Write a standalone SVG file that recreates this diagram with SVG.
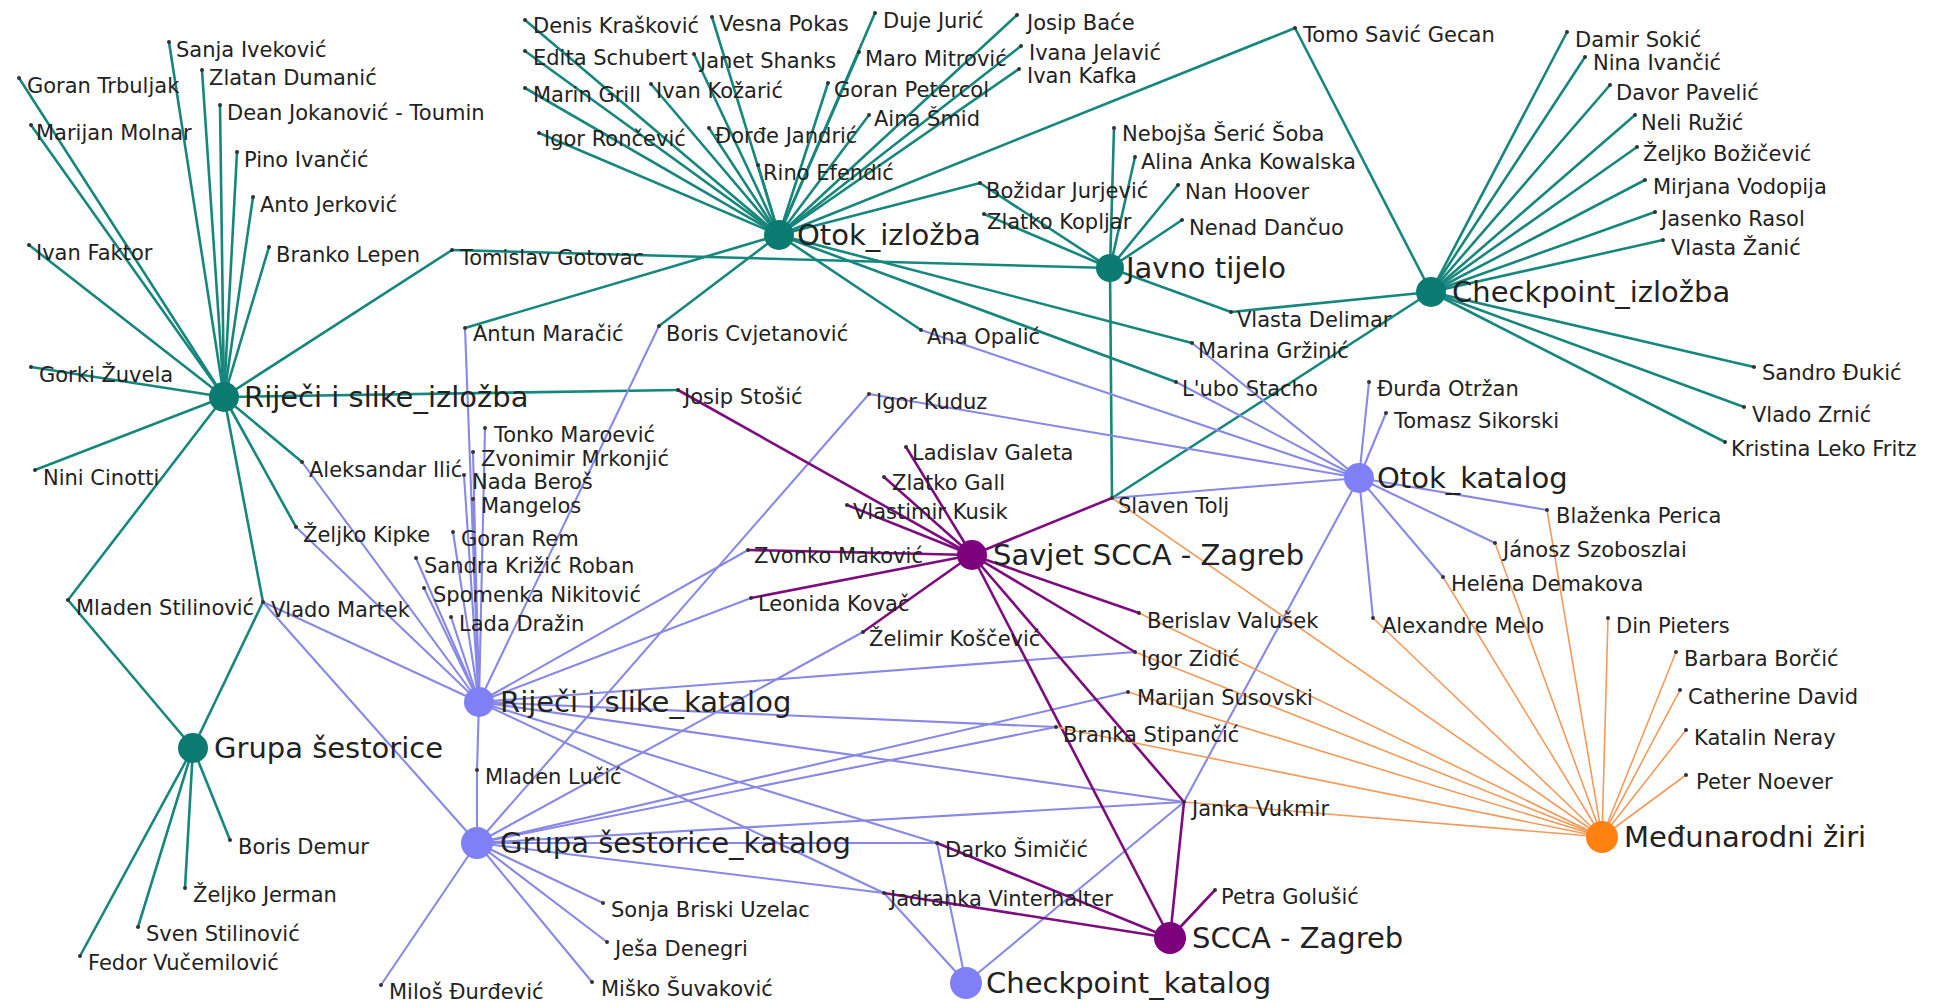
<svg xmlns="http://www.w3.org/2000/svg" width="1934" height="1003" viewBox="0 0 1934 1003">
<style>
.t{stroke:#17877d;stroke-width:2.6;stroke-linecap:round}
.p{stroke:#7d0c7d;stroke-width:2.6;stroke-linecap:round}
.b{stroke:#8888e6;stroke-width:2.1;stroke-linecap:round}
.o{stroke:#f39a5a;stroke-width:1.6;stroke-linecap:round}
text{font-family:"DejaVu Sans",Verdana,sans-serif;fill:#222}
.l{font-size:21px}
.h{font-size:29px}
.d{fill:#333}
.ht{fill:#0b7b72}.hp{fill:#7d007d}.hb{fill:#8080f6}.ho{fill:#ff8210}
</style>
<rect width="1934" height="1003" fill="#fff"/>
<g id="edges">
<!-- RI teal -->
<line class="t" x1="224" y1="397" x2="169" y2="42"/>
<line class="t" x1="224" y1="397" x2="19" y2="78"/>
<line class="t" x1="224" y1="397" x2="202" y2="70"/>
<line class="t" x1="224" y1="397" x2="220" y2="105"/>
<line class="t" x1="224" y1="397" x2="31" y2="125"/>
<line class="t" x1="224" y1="397" x2="237" y2="152"/>
<line class="t" x1="224" y1="397" x2="253" y2="197"/>
<line class="t" x1="224" y1="397" x2="29" y2="245"/>
<line class="t" x1="224" y1="397" x2="269" y2="247"/>
<line class="t" x1="224" y1="397" x2="452" y2="250"/>
<line class="t" x1="224" y1="397" x2="31" y2="367"/>
<line class="t" x1="224" y1="397" x2="35" y2="470"/>
<line class="t" x1="224" y1="397" x2="302" y2="462"/>
<line class="t" x1="224" y1="397" x2="296" y2="527"/>
<line class="t" x1="224" y1="397" x2="263" y2="602"/>
<line class="t" x1="224" y1="397" x2="68" y2="600"/>
<line class="t" x1="224" y1="397" x2="678" y2="390"/>
<!-- GS teal -->
<line class="t" x1="193" y1="748" x2="68" y2="600"/>
<line class="t" x1="193" y1="748" x2="263" y2="602"/>
<line class="t" x1="193" y1="748" x2="230" y2="840"/>
<line class="t" x1="193" y1="748" x2="185" y2="888"/>
<line class="t" x1="193" y1="748" x2="138" y2="927"/>
<line class="t" x1="193" y1="748" x2="80" y2="956"/>
<!-- OI teal -->
<line class="t" x1="779" y1="235" x2="525" y2="20"/>
<line class="t" x1="779" y1="235" x2="712" y2="17"/>
<line class="t" x1="779" y1="235" x2="875" y2="13"/>
<line class="t" x1="779" y1="235" x2="1017" y2="15"/>
<line class="t" x1="779" y1="235" x2="525" y2="51"/>
<line class="t" x1="779" y1="235" x2="694" y2="54"/>
<line class="t" x1="779" y1="235" x2="859" y2="52"/>
<line class="t" x1="779" y1="235" x2="1021" y2="46"/>
<line class="t" x1="779" y1="235" x2="1019" y2="69"/>
<line class="t" x1="779" y1="235" x2="525" y2="88"/>
<line class="t" x1="779" y1="235" x2="651" y2="84"/>
<line class="t" x1="779" y1="235" x2="828" y2="83"/>
<line class="t" x1="779" y1="235" x2="539" y2="133"/>
<line class="t" x1="779" y1="235" x2="709" y2="128"/>
<line class="t" x1="779" y1="235" x2="869" y2="115"/>
<line class="t" x1="779" y1="235" x2="758" y2="165"/>
<line class="t" x1="779" y1="235" x2="980" y2="183"/>
<line class="t" x1="779" y1="235" x2="1295" y2="28"/>
<line class="t" x1="779" y1="235" x2="465" y2="328"/>
<line class="t" x1="779" y1="235" x2="659" y2="326"/>
<line class="t" x1="779" y1="235" x2="921" y2="330"/>
<line class="t" x1="779" y1="235" x2="1176" y2="382"/>
<line class="t" x1="779" y1="235" x2="1192" y2="343"/>
<!-- JT teal -->
<line class="t" x1="1110" y1="268" x2="1114" y2="128"/>
<line class="t" x1="1110" y1="268" x2="1135" y2="157"/>
<line class="t" x1="1110" y1="268" x2="1178" y2="185"/>
<line class="t" x1="1110" y1="268" x2="1182" y2="220"/>
<line class="t" x1="1110" y1="268" x2="980" y2="183"/>
<line class="t" x1="1110" y1="268" x2="984" y2="214"/>
<line class="t" x1="1110" y1="268" x2="452" y2="250"/>
<line class="t" x1="1110" y1="268" x2="1231" y2="312"/>
<line class="t" x1="1110" y1="268" x2="1112" y2="498"/>
<!-- CI teal -->
<line class="t" x1="1431" y1="292" x2="1567" y2="32"/>
<line class="t" x1="1431" y1="292" x2="1585" y2="57"/>
<line class="t" x1="1431" y1="292" x2="1610" y2="85"/>
<line class="t" x1="1431" y1="292" x2="1635" y2="115"/>
<line class="t" x1="1431" y1="292" x2="1637" y2="147"/>
<line class="t" x1="1431" y1="292" x2="1645" y2="180"/>
<line class="t" x1="1431" y1="292" x2="1655" y2="212"/>
<line class="t" x1="1431" y1="292" x2="1663" y2="240"/>
<line class="t" x1="1431" y1="292" x2="1754" y2="367"/>
<line class="t" x1="1431" y1="292" x2="1744" y2="407"/>
<line class="t" x1="1431" y1="292" x2="1725" y2="442"/>
<line class="t" x1="1431" y1="292" x2="1295" y2="28"/>
<line class="t" x1="1431" y1="292" x2="1231" y2="312"/>
<line class="t" x1="1431" y1="292" x2="1112" y2="498"/>
<!-- OK blue -->
<line class="b" x1="1359" y1="478" x2="1369" y2="382"/>
<line class="b" x1="1359" y1="478" x2="1386" y2="413"/>
<line class="b" x1="1359" y1="478" x2="1547" y2="510"/>
<line class="b" x1="1359" y1="478" x2="1495" y2="543"/>
<line class="b" x1="1359" y1="478" x2="1443" y2="577"/>
<line class="b" x1="1359" y1="478" x2="1373" y2="618"/>
<line class="b" x1="1359" y1="478" x2="869" y2="394"/>
<line class="b" x1="1359" y1="478" x2="921" y2="330"/>
<line class="b" x1="1359" y1="478" x2="1176" y2="382"/>
<line class="b" x1="1359" y1="478" x2="1192" y2="343"/>
<line class="b" x1="1359" y1="478" x2="1112" y2="498"/>
<line class="b" x1="1359" y1="478" x2="1184" y2="802"/>
<!-- RK blue -->
<line class="b" x1="479" y1="702" x2="465" y2="328"/>
<line class="b" x1="479" y1="702" x2="485" y2="428"/>
<line class="b" x1="479" y1="702" x2="473" y2="452"/>
<line class="b" x1="479" y1="702" x2="464" y2="475"/>
<line class="b" x1="479" y1="702" x2="473" y2="499"/>
<line class="b" x1="479" y1="702" x2="453" y2="532"/>
<line class="b" x1="479" y1="702" x2="416" y2="558"/>
<line class="b" x1="479" y1="702" x2="424" y2="588"/>
<line class="b" x1="479" y1="702" x2="451" y2="617"/>
<line class="b" x1="479" y1="702" x2="302" y2="462"/>
<line class="b" x1="479" y1="702" x2="296" y2="527"/>
<line class="b" x1="479" y1="702" x2="263" y2="602"/>
<line class="b" x1="479" y1="702" x2="659" y2="326"/>
<line class="b" x1="479" y1="702" x2="748" y2="550"/>
<line class="b" x1="479" y1="702" x2="751" y2="598"/>
<line class="b" x1="479" y1="702" x2="1135" y2="652"/>
<line class="b" x1="479" y1="702" x2="1056" y2="727"/>
<line class="b" x1="479" y1="702" x2="1184" y2="802"/>
<line class="b" x1="479" y1="702" x2="937" y2="843"/>
<line class="b" x1="479" y1="702" x2="884" y2="893"/>
<line class="b" x1="479" y1="702" x2="477" y2="770"/>
<!-- GK blue -->
<line class="b" x1="477" y1="843" x2="477" y2="770"/>
<line class="b" x1="477" y1="843" x2="381" y2="985"/>
<line class="b" x1="477" y1="843" x2="603" y2="903"/>
<line class="b" x1="477" y1="843" x2="607" y2="942"/>
<line class="b" x1="477" y1="843" x2="592" y2="982"/>
<line class="b" x1="477" y1="843" x2="263" y2="602"/>
<line class="b" x1="477" y1="843" x2="869" y2="394"/>
<line class="b" x1="477" y1="843" x2="863" y2="632"/>
<line class="b" x1="477" y1="843" x2="1128" y2="692"/>
<line class="b" x1="477" y1="843" x2="1056" y2="727"/>
<line class="b" x1="477" y1="843" x2="1184" y2="802"/>
<line class="b" x1="477" y1="843" x2="937" y2="843"/>
<line class="b" x1="477" y1="843" x2="884" y2="893"/>
<!-- CK blue -->
<line class="b" x1="966" y1="983" x2="884" y2="893"/>
<line class="b" x1="966" y1="983" x2="937" y2="843"/>
<line class="b" x1="966" y1="983" x2="1184" y2="802"/>
<!-- SS purple -->
<line class="p" x1="972" y1="555" x2="678" y2="390"/>
<line class="p" x1="972" y1="555" x2="847" y2="505"/>
<line class="p" x1="972" y1="555" x2="884" y2="477"/>
<line class="p" x1="972" y1="555" x2="906" y2="447"/>
<line class="p" x1="972" y1="555" x2="748" y2="550"/>
<line class="p" x1="972" y1="555" x2="751" y2="598"/>
<line class="p" x1="972" y1="555" x2="863" y2="632"/>
<line class="p" x1="972" y1="555" x2="1139" y2="613"/>
<line class="p" x1="972" y1="555" x2="1135" y2="652"/>
<line class="p" x1="972" y1="555" x2="1112" y2="498"/>
<line class="p" x1="972" y1="555" x2="1184" y2="802"/>
<line class="p" x1="972" y1="555" x2="1170" y2="938"/>
<!-- SZ purple -->
<line class="p" x1="1170" y1="938" x2="1215" y2="890"/>
<line class="p" x1="1170" y1="938" x2="884" y2="893"/>
<line class="p" x1="1170" y1="938" x2="937" y2="843"/>
<line class="p" x1="1170" y1="938" x2="1184" y2="802"/>
<!-- MZ orange -->
<line class="o" x1="1602" y1="837" x2="1112" y2="498"/>
<line class="o" x1="1602" y1="837" x2="1139" y2="613"/>
<line class="o" x1="1602" y1="837" x2="1135" y2="652"/>
<line class="o" x1="1602" y1="837" x2="1128" y2="692"/>
<line class="o" x1="1602" y1="837" x2="1056" y2="727"/>
<line class="o" x1="1602" y1="837" x2="1184" y2="802"/>
<line class="o" x1="1602" y1="837" x2="1373" y2="618"/>
<line class="o" x1="1602" y1="837" x2="1443" y2="577"/>
<line class="o" x1="1602" y1="837" x2="1495" y2="543"/>
<line class="o" x1="1602" y1="837" x2="1547" y2="510"/>
<line class="o" x1="1602" y1="837" x2="1608" y2="618"/>
<line class="o" x1="1602" y1="837" x2="1676" y2="652"/>
<line class="o" x1="1602" y1="837" x2="1680" y2="690"/>
<line class="o" x1="1602" y1="837" x2="1686" y2="730"/>
<line class="o" x1="1602" y1="837" x2="1686" y2="775"/>
</g>
<g id="hubs">
<g id="otok-izlozba"><circle class="ht" cx="779" cy="235" r="15"/><text class="h" x="797" y="245">Otok_izložba</text></g>
<g id="javno-tijelo"><circle class="ht" cx="1110" cy="268" r="14"/><text class="h" x="1126" y="278">Javno tijelo</text></g>
<g id="checkpoint-izlozba"><circle class="ht" cx="1431" cy="292" r="15"/><text class="h" x="1452" y="302">Checkpoint_izložba</text></g>
<g id="rijeci-izlozba"><circle class="ht" cx="224" cy="397" r="15"/><text class="h" x="244" y="407">Riječi i slike_izložba</text></g>
<g id="grupa-sestorice"><circle class="ht" cx="193" cy="748" r="15"/><text class="h" x="214" y="758">Grupa šestorice</text></g>
<g id="otok-katalog"><circle class="hb" cx="1359" cy="478" r="15"/><text class="h" x="1377" y="488">Otok_katalog</text></g>
<g id="savjet-scca"><circle class="hp" cx="972" cy="555" r="15"/><text class="h" x="993" y="565">Savjet SCCA - Zagreb</text></g>
<g id="rijeci-katalog"><circle class="hb" cx="479" cy="702" r="15"/><text class="h" x="500" y="712">Riječi i slike_katalog</text></g>
<g id="grupa-katalog"><circle class="hb" cx="477" cy="843" r="16"/><text class="h" x="500" y="853">Grupa šestorice_katalog</text></g>
<g id="medunarodni-ziri"><circle class="ho" cx="1602" cy="837" r="16"/><text class="h" x="1624" y="847">Međunarodni žiri</text></g>
<g id="scca-zagreb"><circle class="hp" cx="1170" cy="938" r="16"/><text class="h" x="1192" y="948">SCCA - Zagreb</text></g>
<g id="checkpoint-katalog"><circle class="hb" cx="966" cy="983" r="16"/><text class="h" x="986" y="993">Checkpoint_katalog</text></g>
</g>
<g id="people">
<g id="n1"><circle class="d" cx="169" cy="42" r="2"/><text class="l" x="176" y="57">Sanja Iveković</text></g>
<g id="n2"><circle class="d" cx="19" cy="78" r="2"/><text class="l" x="27" y="93">Goran Trbuljak</text></g>
<g id="n3"><circle class="d" cx="202" cy="70" r="2"/><text class="l" x="209" y="85">Zlatan Dumanić</text></g>
<g id="n4"><circle class="d" cx="220" cy="105" r="2"/><text class="l" x="227" y="120">Dean Jokanović - Toumin</text></g>
<g id="n5"><circle class="d" cx="31" cy="125" r="2"/><text class="l" x="36" y="140">Marijan Molnar</text></g>
<g id="n6"><circle class="d" cx="237" cy="152" r="2"/><text class="l" x="244" y="167">Pino Ivančić</text></g>
<g id="n7"><circle class="d" cx="253" cy="197" r="2"/><text class="l" x="260" y="212">Anto Jerković</text></g>
<g id="n8"><circle class="d" cx="29" cy="245" r="2"/><text class="l" x="36" y="260">Ivan Faktor</text></g>
<g id="n9"><circle class="d" cx="269" cy="247" r="2"/><text class="l" x="276" y="262">Branko Lepen</text></g>
<g id="n10"><circle class="d" cx="452" cy="250" r="2"/><text class="l" x="460" y="265">Tomislav Gotovac</text></g>
<g id="n11"><circle class="d" cx="31" cy="367" r="2"/><text class="l" x="39" y="382">Gorki Žuvela</text></g>
<g id="n12"><circle class="d" cx="35" cy="470" r="2"/><text class="l" x="43" y="485">Nini Cinotti</text></g>
<g id="n13"><circle class="d" cx="302" cy="462" r="2"/><text class="l" x="309" y="477">Aleksandar Ilić</text></g>
<g id="n14"><circle class="d" cx="296" cy="527" r="2"/><text class="l" x="303" y="542">Željko Kipke</text></g>
<g id="n15"><circle class="d" cx="68" cy="600" r="2"/><text class="l" x="76" y="615">Mladen Stilinović</text></g>
<g id="n16"><circle class="d" cx="263" cy="602" r="2"/><text class="l" x="271" y="617">Vlado Martek</text></g>
<g id="n17"><circle class="d" cx="678" cy="390" r="2"/><text class="l" x="684" y="404">Josip Stošić</text></g>
<g id="n18"><circle class="d" cx="525" cy="20" r="2"/><text class="l" x="533" y="33">Denis Krašković</text></g>
<g id="n19"><circle class="d" cx="712" cy="17" r="2"/><text class="l" x="719" y="31">Vesna Pokas</text></g>
<g id="n20"><circle class="d" cx="875" cy="13" r="2"/><text class="l" x="883" y="28">Duje Jurić</text></g>
<g id="n21"><circle class="d" cx="1017" cy="15" r="2"/><text class="l" x="1027" y="30">Josip Baće</text></g>
<g id="n22"><circle class="d" cx="525" cy="51" r="2"/><text class="l" x="533" y="65">Edita Schubert</text></g>
<g id="n23"><circle class="d" cx="694" cy="54" r="2"/><text class="l" x="700" y="68">Janet Shanks</text></g>
<g id="n24"><circle class="d" cx="859" cy="52" r="2"/><text class="l" x="865" y="66">Maro Mitrović</text></g>
<g id="n25"><circle class="d" cx="1021" cy="46" r="2"/><text class="l" x="1029" y="60">Ivana Jelavić</text></g>
<g id="n26"><circle class="d" cx="1019" cy="69" r="2"/><text class="l" x="1027" y="83">Ivan Kafka</text></g>
<g id="n27"><circle class="d" cx="525" cy="88" r="2"/><text class="l" x="533" y="102">Marin Grill</text></g>
<g id="n28"><circle class="d" cx="651" cy="84" r="2"/><text class="l" x="656" y="98">Ivan Kožarić</text></g>
<g id="n29"><circle class="d" cx="828" cy="83" r="2"/><text class="l" x="834" y="97">Goran Petercol</text></g>
<g id="n30"><circle class="d" cx="539" cy="133" r="2"/><text class="l" x="544" y="146">Igor Rončević</text></g>
<g id="n31"><circle class="d" cx="709" cy="128" r="2"/><text class="l" x="715" y="143">Đorđe Jandrić</text></g>
<g id="n32"><circle class="d" cx="869" cy="115" r="2"/><text class="l" x="874" y="126">Aina Šmid</text></g>
<g id="n33"><circle class="d" cx="758" cy="165" r="2"/><text class="l" x="763" y="180">Rino Efendić</text></g>
<g id="n34"><circle class="d" cx="980" cy="183" r="2"/><text class="l" x="986" y="198">Božidar Jurjević</text></g>
<g id="n35"><circle class="d" cx="984" cy="214" r="2"/><text class="l" x="987" y="229">Zlatko Kopljar</text></g>
<g id="n36"><circle class="d" cx="1295" cy="28" r="2"/><text class="l" x="1303" y="42">Tomo Savić Gecan</text></g>
<g id="n37"><circle class="d" cx="1114" cy="128" r="2"/><text class="l" x="1122" y="141">Nebojša Šerić Šoba</text></g>
<g id="n38"><circle class="d" cx="1135" cy="157" r="2"/><text class="l" x="1141" y="169">Alina Anka Kowalska</text></g>
<g id="n39"><circle class="d" cx="1178" cy="185" r="2"/><text class="l" x="1185" y="199">Nan Hoover</text></g>
<g id="n40"><circle class="d" cx="1182" cy="220" r="2"/><text class="l" x="1189" y="235">Nenad Dančuo</text></g>
<g id="n41"><circle class="d" cx="1231" cy="312" r="2"/><text class="l" x="1237" y="327">Vlasta Delimar</text></g>
<g id="n42"><circle class="d" cx="1192" cy="343" r="2"/><text class="l" x="1198" y="358">Marina Gržinić</text></g>
<g id="n43"><circle class="d" cx="1176" cy="382" r="2"/><text class="l" x="1182" y="396">L'ubo Stacho</text></g>
<g id="n44"><circle class="d" cx="1112" cy="498" r="2"/><text class="l" x="1118" y="513">Slaven Tolj</text></g>
<g id="n45"><circle class="d" cx="1567" cy="32" r="2"/><text class="l" x="1575" y="47">Damir Sokić</text></g>
<g id="n46"><circle class="d" cx="1585" cy="57" r="2"/><text class="l" x="1593" y="70">Nina Ivančić</text></g>
<g id="n47"><circle class="d" cx="1610" cy="85" r="2"/><text class="l" x="1616" y="100">Davor Pavelić</text></g>
<g id="n48"><circle class="d" cx="1635" cy="115" r="2"/><text class="l" x="1641" y="130">Neli Ružić</text></g>
<g id="n49"><circle class="d" cx="1637" cy="147" r="2"/><text class="l" x="1643" y="161">Željko Božičević</text></g>
<g id="n50"><circle class="d" cx="1645" cy="180" r="2"/><text class="l" x="1653" y="194">Mirjana Vodopija</text></g>
<g id="n51"><circle class="d" cx="1655" cy="212" r="2"/><text class="l" x="1661" y="226">Jasenko Rasol</text></g>
<g id="n52"><circle class="d" cx="1663" cy="240" r="2"/><text class="l" x="1671" y="255">Vlasta Žanić</text></g>
<g id="n53"><circle class="d" cx="1754" cy="367" r="2"/><text class="l" x="1762" y="380">Sandro Đukić</text></g>
<g id="n54"><circle class="d" cx="1744" cy="407" r="2"/><text class="l" x="1752" y="422">Vlado Zrnić</text></g>
<g id="n55"><circle class="d" cx="1725" cy="442" r="2"/><text class="l" x="1731" y="456">Kristina Leko Fritz</text></g>
<g id="n56"><circle class="d" cx="465" cy="328" r="2"/><text class="l" x="473" y="341">Antun Maračić</text></g>
<g id="n57"><circle class="d" cx="659" cy="326" r="2"/><text class="l" x="666" y="341">Boris Cvjetanović</text></g>
<g id="n58"><circle class="d" cx="921" cy="330" r="2"/><text class="l" x="927" y="344">Ana Opalić</text></g>
<g id="n59"><circle class="d" cx="869" cy="394" r="2"/><text class="l" x="876" y="409">Igor Kuduz</text></g>
<g id="n60"><circle class="d" cx="485" cy="428" r="2"/><text class="l" x="494" y="442">Tonko Maroević</text></g>
<g id="n61"><circle class="d" cx="473" cy="452" r="2"/><text class="l" x="481" y="466">Zvonimir Mrkonjić</text></g>
<g id="n62"><circle class="d" cx="464" cy="475" r="2"/><text class="l" x="472" y="489">Nada Beroš</text></g>
<g id="n63"><circle class="d" cx="473" cy="499" r="2"/><text class="l" x="481" y="513">Mangelos</text></g>
<g id="n64"><circle class="d" cx="453" cy="532" r="2"/><text class="l" x="461" y="546">Goran Rem</text></g>
<g id="n65"><circle class="d" cx="416" cy="558" r="2"/><text class="l" x="424" y="573">Sandra Križić Roban</text></g>
<g id="n66"><circle class="d" cx="424" cy="588" r="2"/><text class="l" x="433" y="602">Spomenka Nikitović</text></g>
<g id="n67"><circle class="d" cx="451" cy="617" r="2"/><text class="l" x="459" y="631">Lada Dražin</text></g>
<g id="n68"><circle class="d" cx="906" cy="447" r="2"/><text class="l" x="912" y="460">Ladislav Galeta</text></g>
<g id="n69"><circle class="d" cx="884" cy="477" r="2"/><text class="l" x="892" y="490">Zlatko Gall</text></g>
<g id="n70"><circle class="d" cx="847" cy="505" r="2"/><text class="l" x="853" y="519">Vlastimir Kusik</text></g>
<g id="n71"><circle class="d" cx="748" cy="550" r="2"/><text class="l" x="754" y="563">Zvonko Maković</text></g>
<g id="n72"><circle class="d" cx="751" cy="598" r="2"/><text class="l" x="758" y="611">Leonida Kovač</text></g>
<g id="n73"><circle class="d" cx="863" cy="632" r="2"/><text class="l" x="869" y="646">Želimir Koščević</text></g>
<g id="n74"><circle class="d" cx="1139" cy="613" r="2"/><text class="l" x="1147" y="628">Berislav Valušek</text></g>
<g id="n75"><circle class="d" cx="1135" cy="652" r="2"/><text class="l" x="1141" y="666">Igor Zidić</text></g>
<g id="n76"><circle class="d" cx="1128" cy="692" r="2"/><text class="l" x="1137" y="705">Marijan Susovski</text></g>
<g id="n77"><circle class="d" cx="1056" cy="727" r="2"/><text class="l" x="1063" y="742">Branka Stipančić</text></g>
<g id="n78"><circle class="d" cx="1369" cy="382" r="2"/><text class="l" x="1377" y="396">Đurđa Otržan</text></g>
<g id="n79"><circle class="d" cx="1386" cy="413" r="2"/><text class="l" x="1394" y="428">Tomasz Sikorski</text></g>
<g id="n80"><circle class="d" cx="1547" cy="510" r="2"/><text class="l" x="1556" y="523">Blaženka Perica</text></g>
<g id="n81"><circle class="d" cx="1495" cy="543" r="2"/><text class="l" x="1503" y="557">Jánosz Szoboszlai</text></g>
<g id="n82"><circle class="d" cx="1443" cy="577" r="2"/><text class="l" x="1451" y="591">Helēna Demakova</text></g>
<g id="n83"><circle class="d" cx="1373" cy="618" r="2"/><text class="l" x="1382" y="633">Alexandre Melo</text></g>
<g id="n84"><circle class="d" cx="1608" cy="618" r="2"/><text class="l" x="1616" y="633">Din Pieters</text></g>
<g id="n85"><circle class="d" cx="1676" cy="652" r="2"/><text class="l" x="1684" y="666">Barbara Borčić</text></g>
<g id="n86"><circle class="d" cx="1680" cy="690" r="2"/><text class="l" x="1688" y="704">Catherine David</text></g>
<g id="n87"><circle class="d" cx="1686" cy="730" r="2"/><text class="l" x="1694" y="745">Katalin Neray</text></g>
<g id="n88"><circle class="d" cx="1686" cy="775" r="2"/><text class="l" x="1696" y="789">Peter Noever</text></g>
<g id="n89"><circle class="d" cx="230" cy="840" r="2"/><text class="l" x="238" y="854">Boris Demur</text></g>
<g id="n90"><circle class="d" cx="185" cy="888" r="2"/><text class="l" x="193" y="902">Željko Jerman</text></g>
<g id="n91"><circle class="d" cx="138" cy="927" r="2"/><text class="l" x="146" y="941">Sven Stilinović</text></g>
<g id="n92"><circle class="d" cx="80" cy="956" r="2"/><text class="l" x="88" y="970">Fedor Vučemilović</text></g>
<g id="n93"><circle class="d" cx="477" cy="770" r="2"/><text class="l" x="485" y="784">Mladen Lučić</text></g>
<g id="n94"><circle class="d" cx="381" cy="985" r="2"/><text class="l" x="389" y="999">Miloš Đurđević</text></g>
<g id="n95"><circle class="d" cx="603" cy="903" r="2"/><text class="l" x="611" y="917">Sonja Briski Uzelac</text></g>
<g id="n96"><circle class="d" cx="607" cy="942" r="2"/><text class="l" x="615" y="956">Ješa Denegri</text></g>
<g id="n97"><circle class="d" cx="592" cy="982" r="2"/><text class="l" x="601" y="996">Miško Šuvaković</text></g>
<g id="n98"><circle class="d" cx="1184" cy="802" r="2"/><text class="l" x="1192" y="816">Janka Vukmir</text></g>
<g id="n99"><circle class="d" cx="937" cy="843" r="2"/><text class="l" x="945" y="857">Darko Šimičić</text></g>
<g id="n100"><circle class="d" cx="884" cy="893" r="2"/><text class="l" x="890" y="906">Jadranka Vinterhalter</text></g>
<g id="n101"><circle class="d" cx="1215" cy="890" r="2"/><text class="l" x="1221" y="904">Petra Golušić</text></g>
</g>
</svg>
